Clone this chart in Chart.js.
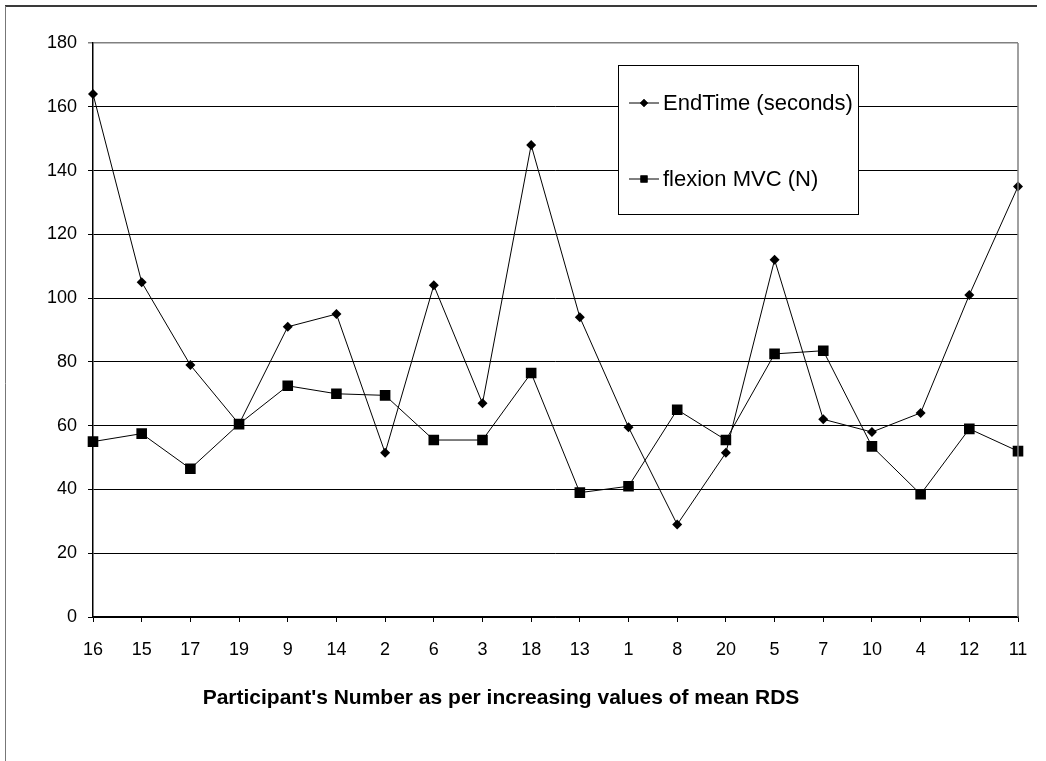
<!DOCTYPE html>
<html>
<head>
<meta charset="utf-8">
<script src="https://cdn.jsdelivr.net/npm/chart.js@4/dist/chart.umd.min.js"></script>
<style>
  body { margin: 0; background: #fff; }
  #wrap { width: 1046px; height: 761px; }
</style>
</head>
<body>
<div id="wrap"><canvas id="chart" width="1046" height="761"></canvas></div>
<script>
const participants = ['16', '15', '17', '19', '9', '14', '2', '6', '3', '18', '13', '1', '8', '20', '5', '7', '10', '4', '12', '11']
const endTime = [164, 105, 79, 60.5, 91, 95, 51.5, 104, 67, 148, 94, 59.5, 29, 51.5, 112, 62, 58, 64, 101, 135]
const flexionMVC = [55, 57.5, 46.5, 60.5, 72.5, 70, 69.5, 55.5, 55.5, 76.5, 39, 41, 65, 55.5, 82.5, 83.5, 53.5, 38.5, 59, 52]
const yTicks = [0, 20, 40, 60, 80, 100, 120, 140, 160, 180]

const xTitle = "Participant's Number as per increasing values of mean RDS"
const fontName = "'Liberation Sans', Arial, sans-serif"

const ctx = document.getElementById('chart').getContext('2d')

// white page, outer frame (top + left only) and the grey right edge of the plot
const bgFrame = {
  id: 'bgFrame',
  beforeDraw: (chart) => {
    const c = chart.ctx
    c.save()
    c.fillStyle = '#fff'
    c.fillRect(0, 0, chart.width, chart.height)
    c.strokeStyle = '#3a3a3a'
    c.lineWidth = 2
    c.beginPath()
    c.moveTo(5, 6)
    c.lineTo(1037, 6)
    c.stroke()
    c.strokeStyle = '#777'
    c.lineWidth = 1
    c.beginPath()
    c.moveTo(5.5, 6)
    c.lineTo(5.5, chart.height)
    c.stroke()
    c.restore()
  },
  afterDraw: (chart) => {
    const a = chart.chartArea
    const c = chart.ctx
    c.save()
    c.strokeStyle = '#808080'
    c.lineWidth = 1.5
    c.beginPath()
    c.moveTo(a.right, a.top)
    c.lineTo(a.right, a.bottom)
    c.stroke()
    c.restore()
  }
}

// x axis title, not centred on the plot in the original
const axisTitle = {
  id: 'axisTitle',
  afterDraw: (chart) => {
    const c = chart.ctx
    c.save()
    c.fillStyle = '#000'
    c.font = 'bold 21px ' + fontName
    c.textAlign = 'center'
    c.textBaseline = 'middle'
    c.fillText(xTitle, 501, 698)
    c.restore()
  }
}

// boxed legend inside the plot, items stacked
const boxLegend = {
  id: 'boxLegend',
  afterDraw: (chart) => {
    const c = chart.ctx
    const left = 618, top = 65, right = 858, bottom = 214
    const rows = [103, 179]
    c.save()
    c.fillStyle = '#fff'
    c.fillRect(left, top, right - left, bottom - top)
    c.strokeStyle = '#000'
    c.lineWidth = 1
    c.strokeRect(left + 0.5, top + 0.5, right - left, bottom - top)
    chart.data.datasets.forEach((ds, i) => {
      const y = rows[i]
      c.strokeStyle = '#000'
      c.lineWidth = 1
      c.beginPath()
      c.moveTo(629, y)
      c.lineTo(659, y)
      c.stroke()
      c.fillStyle = '#000'
      Chart.helpers.drawPoint(c, {
        pointStyle: ds.pointStyle,
        radius: ds.pointStyle === 'rect' ? 5 : 4,
        borderWidth: 0,
        rotation: 0
      }, 644, y)
      c.fill()
      c.font = '22px ' + fontName
      c.textAlign = 'left'
      c.textBaseline = 'middle'
      c.fillText(ds.label, 663, y + 1)
    })
    c.restore()
  }
}

const data = {
  labels: participants,
  datasets: [{
    label: 'EndTime (seconds)',
    data: endTime,
    borderColor: '#000',
    backgroundColor: '#000',
    borderWidth: 1,
    pointStyle: 'rectRot',
    pointRadius: 5,
    pointBorderWidth: 0,
    tension: 0
  }, {
    label: 'flexion MVC (N)',
    data: flexionMVC,
    borderColor: '#000',
    backgroundColor: '#000',
    borderWidth: 1,
    pointStyle: 'rect',
    pointRadius: 7.5,
    pointBorderWidth: 0,
    tension: 0
  }]
}

const options = {
  responsive: false,
  animation: false,
  layout: { padding: { top: 43, right: 28, bottom: 0, left: 0 } },
  plugins: {
    legend: { display: false },
    title: { display: false },
    tooltip: { enabled: false }
  },
  scales: {
    x: {
      offset: false,
      grid: { drawOnChartArea: false, drawTicks: true, tickLength: 5, color: '#000' },
      border: { color: '#000', width: 1.5 },
      ticks: { color: '#000', font: { family: fontName, size: 18 }, padding: 17, autoSkip: false, maxRotation: 0 },
      afterFit: (scale) => { scale.height = 144 }
    },
    y: {
      min: 0,
      max: 180,
      afterBuildTicks: (scale) => { scale.ticks = yTicks.map(v => ({ value: v })) },
      grid: {
        color: (c) => c.tick && c.tick.value === 180 ? '#808080' : '#000',
        lineWidth: (c) => c.tick && c.tick.value === 180 ? 1.5 : 1,
        drawTicks: true,
        tickLength: 5
      },
      border: { color: '#000', width: 1.5 },
      ticks: { color: '#000', font: { family: fontName, size: 18 }, padding: 11 },
      afterFit: (scale) => { scale.width = 93 }
    }
  }
}

const config = {
  type: 'line',
  data,
  options,
  plugins: [bgFrame, axisTitle, boxLegend]
}

let myChart = new Chart(ctx, config)
</script>
</body>
</html>
